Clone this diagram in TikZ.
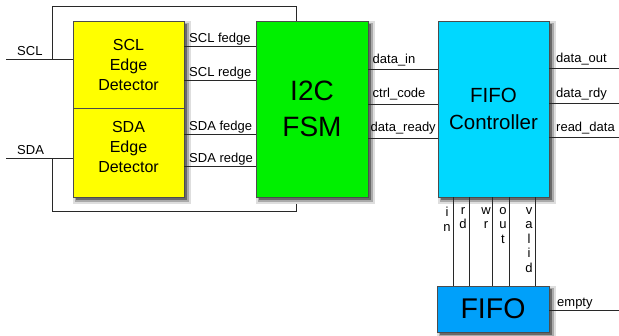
\documentclass[tikz,border=0pt]{standalone}
\usepackage{fontspec}
\setmainfont{Liberation Sans}
\definecolor{edgeyel}{RGB}{255,255,0}
\definecolor{fsmgreen}{RGB}{0,240,0}
\definecolor{ctrlcyan}{RGB}{0,216,255}
\definecolor{fifoblue}{RGB}{0,160,250}
\definecolor{wire}{RGB}{40,40,40}
\definecolor{shadeA}{RGB}{222,222,222}
\definecolor{shadeB}{RGB}{170,170,170}
\definecolor{shadeC}{RGB}{105,105,105}
\tikzset{
  block/.style={draw=black!70, line width=0.6pt, inner sep=0pt, align=center},
  shadow box/.style={draw=none, inner sep=0pt, outer sep=0pt, rectangle},
  sig/.style={draw=wire, line width=0.8pt},
  lbl/.style={font=\fontsize{13}{14}\selectfont, inner sep=0pt, anchor=base west},
  vlbl/.style={font=\fontsize{13}{14.5}\selectfont, inner sep=0pt, align=center, anchor=north},
}
\begin{document}
\begin{tikzpicture}[x=1pt, y=-1pt]
\useasboundingbox (0,0) rectangle (619,335);

% feedback loop around the edge detectors
\coordinate (sclj) at (52,59);
\coordinate (sdaj) at (52,158);
\coordinate (topR) at (296,6);
\coordinate (botR) at (296,211);
\draw[sig] (sclj) |- (topR) -- (296,21);
\draw[sig] (sdaj) |- (botR) -- (296,197);

% soft shadows under the blocks (halo, mid tone, core)
\foreach \cx/\cy/\w/\h/\n in {128.5/109/111/176/e, 312/109/112/176/f, 493.5/109/111/176/c, 493/309/112/46/q}{
  \node[shadow box, fill=shadeA, minimum width=\w pt+7pt, minimum height=\h pt+7pt] (ha\n) at (\cx+3.5,\cy+3.5) {};
  \node[shadow box, fill=shadeB, minimum width=\w pt+3pt, minimum height=\h pt+3pt] (hb\n) at (\cx+3.5,\cy+3.5) {};
  \node[shadow box, fill=shadeC, minimum width=\w pt, minimum height=\h pt] (hc\n) at (\cx+3.2,\cy+3.2) {};
}

% blocks
\node[block, fill=edgeyel, minimum width=111pt, minimum height=87pt,
  font=\fontsize{16}{20}\selectfont] (scl) at (128.5,64.5) {SCL\\Edge\\Detector};
\node[block, fill=edgeyel, minimum width=111pt, minimum height=89pt,
  font=\fontsize{16}{20}\selectfont] (sda) at (128.5,152.5) {SDA\\Edge\\Detector\\[-9pt]\mbox{}};
\node[block, fill=fsmgreen, minimum width=112pt, minimum height=176pt,
  font=\fontsize{28}{36}\selectfont] (fsm) at (312,109) {I2C\\FSM};
\node[block, fill=ctrlcyan, minimum width=111pt, minimum height=176pt,
  font=\fontsize{20.5}{27}\selectfont] (ctrl) at (493.5,109) {FIFO\\Controller};
\node[block, fill=fifoblue, minimum width=112pt, minimum height=46pt,
  font=\fontsize{28.5}{30}\selectfont] (fifo) at (493,309) {FIFO};

% primary inputs
\coordinate (sclin) at (6,59);
\coordinate (sdain) at (6,158);
\draw[sig] (sclin) -- (scl.west |- sclin);
\draw[sig] (sdain) -- (sda.west |- sdain);
\node[lbl] (tscl) at (17,55.5) {SCL};
\node[lbl] (tsda) at (17,154.5) {SDA};

% edge detector outputs
\foreach \y/\t/\n in {46/SCL fedge/a, 80/SCL redge/b, 134/SDA fedge/c, 166/SDA redge/d}{
  \draw[sig] (scl.east |- 0,\y) -- (fsm.west |- 0,\y);
  \node[lbl] (e\n) at (189,\y-3.5) {\t};
}

% FSM to controller
\foreach \y in {69, 104, 138}{
  \draw[sig] (fsm.east |- 0,\y) -- (ctrl.west |- 0,\y);
}
\node[lbl] (fa) at (372.5,63) {data\_in};
\node[lbl] (fb) at (372.5,97.5) {ctrl\_code};
\node[lbl] (fc) at (370.5,131.5) {data\_ready};

% controller outputs
\foreach \y/\t/\n in {68.5/data\_out/a, 103/data\_rdy/b, 137/read\_data/c}{
  \coordinate (o\n) at (619,\y);
  \draw[sig] (ctrl.east |- o\n) -- (o\n);
  \node[lbl] (to\n) at (556,\y-6) {\t};
}

% controller to FIFO
\foreach \x/\t/\n in {453/i\\n/a, 469/r\\d/b, 492/w\\r/c, 509/o\\u\\t/d, 535/v\\a\\l\\i\\d/e}{
  \draw[sig] (\x,197) -- (fifo.north -| \x,0);
  \node[vlbl] (v\n) at (\x-6,207) {\t};
}

% FIFO status
\coordinate (emp) at (619,310.5);
\draw[sig] (fifo.east |- emp) -- (emp);
\node[lbl] (temp) at (557,306.5) {empty};
\end{tikzpicture}
\end{document}
